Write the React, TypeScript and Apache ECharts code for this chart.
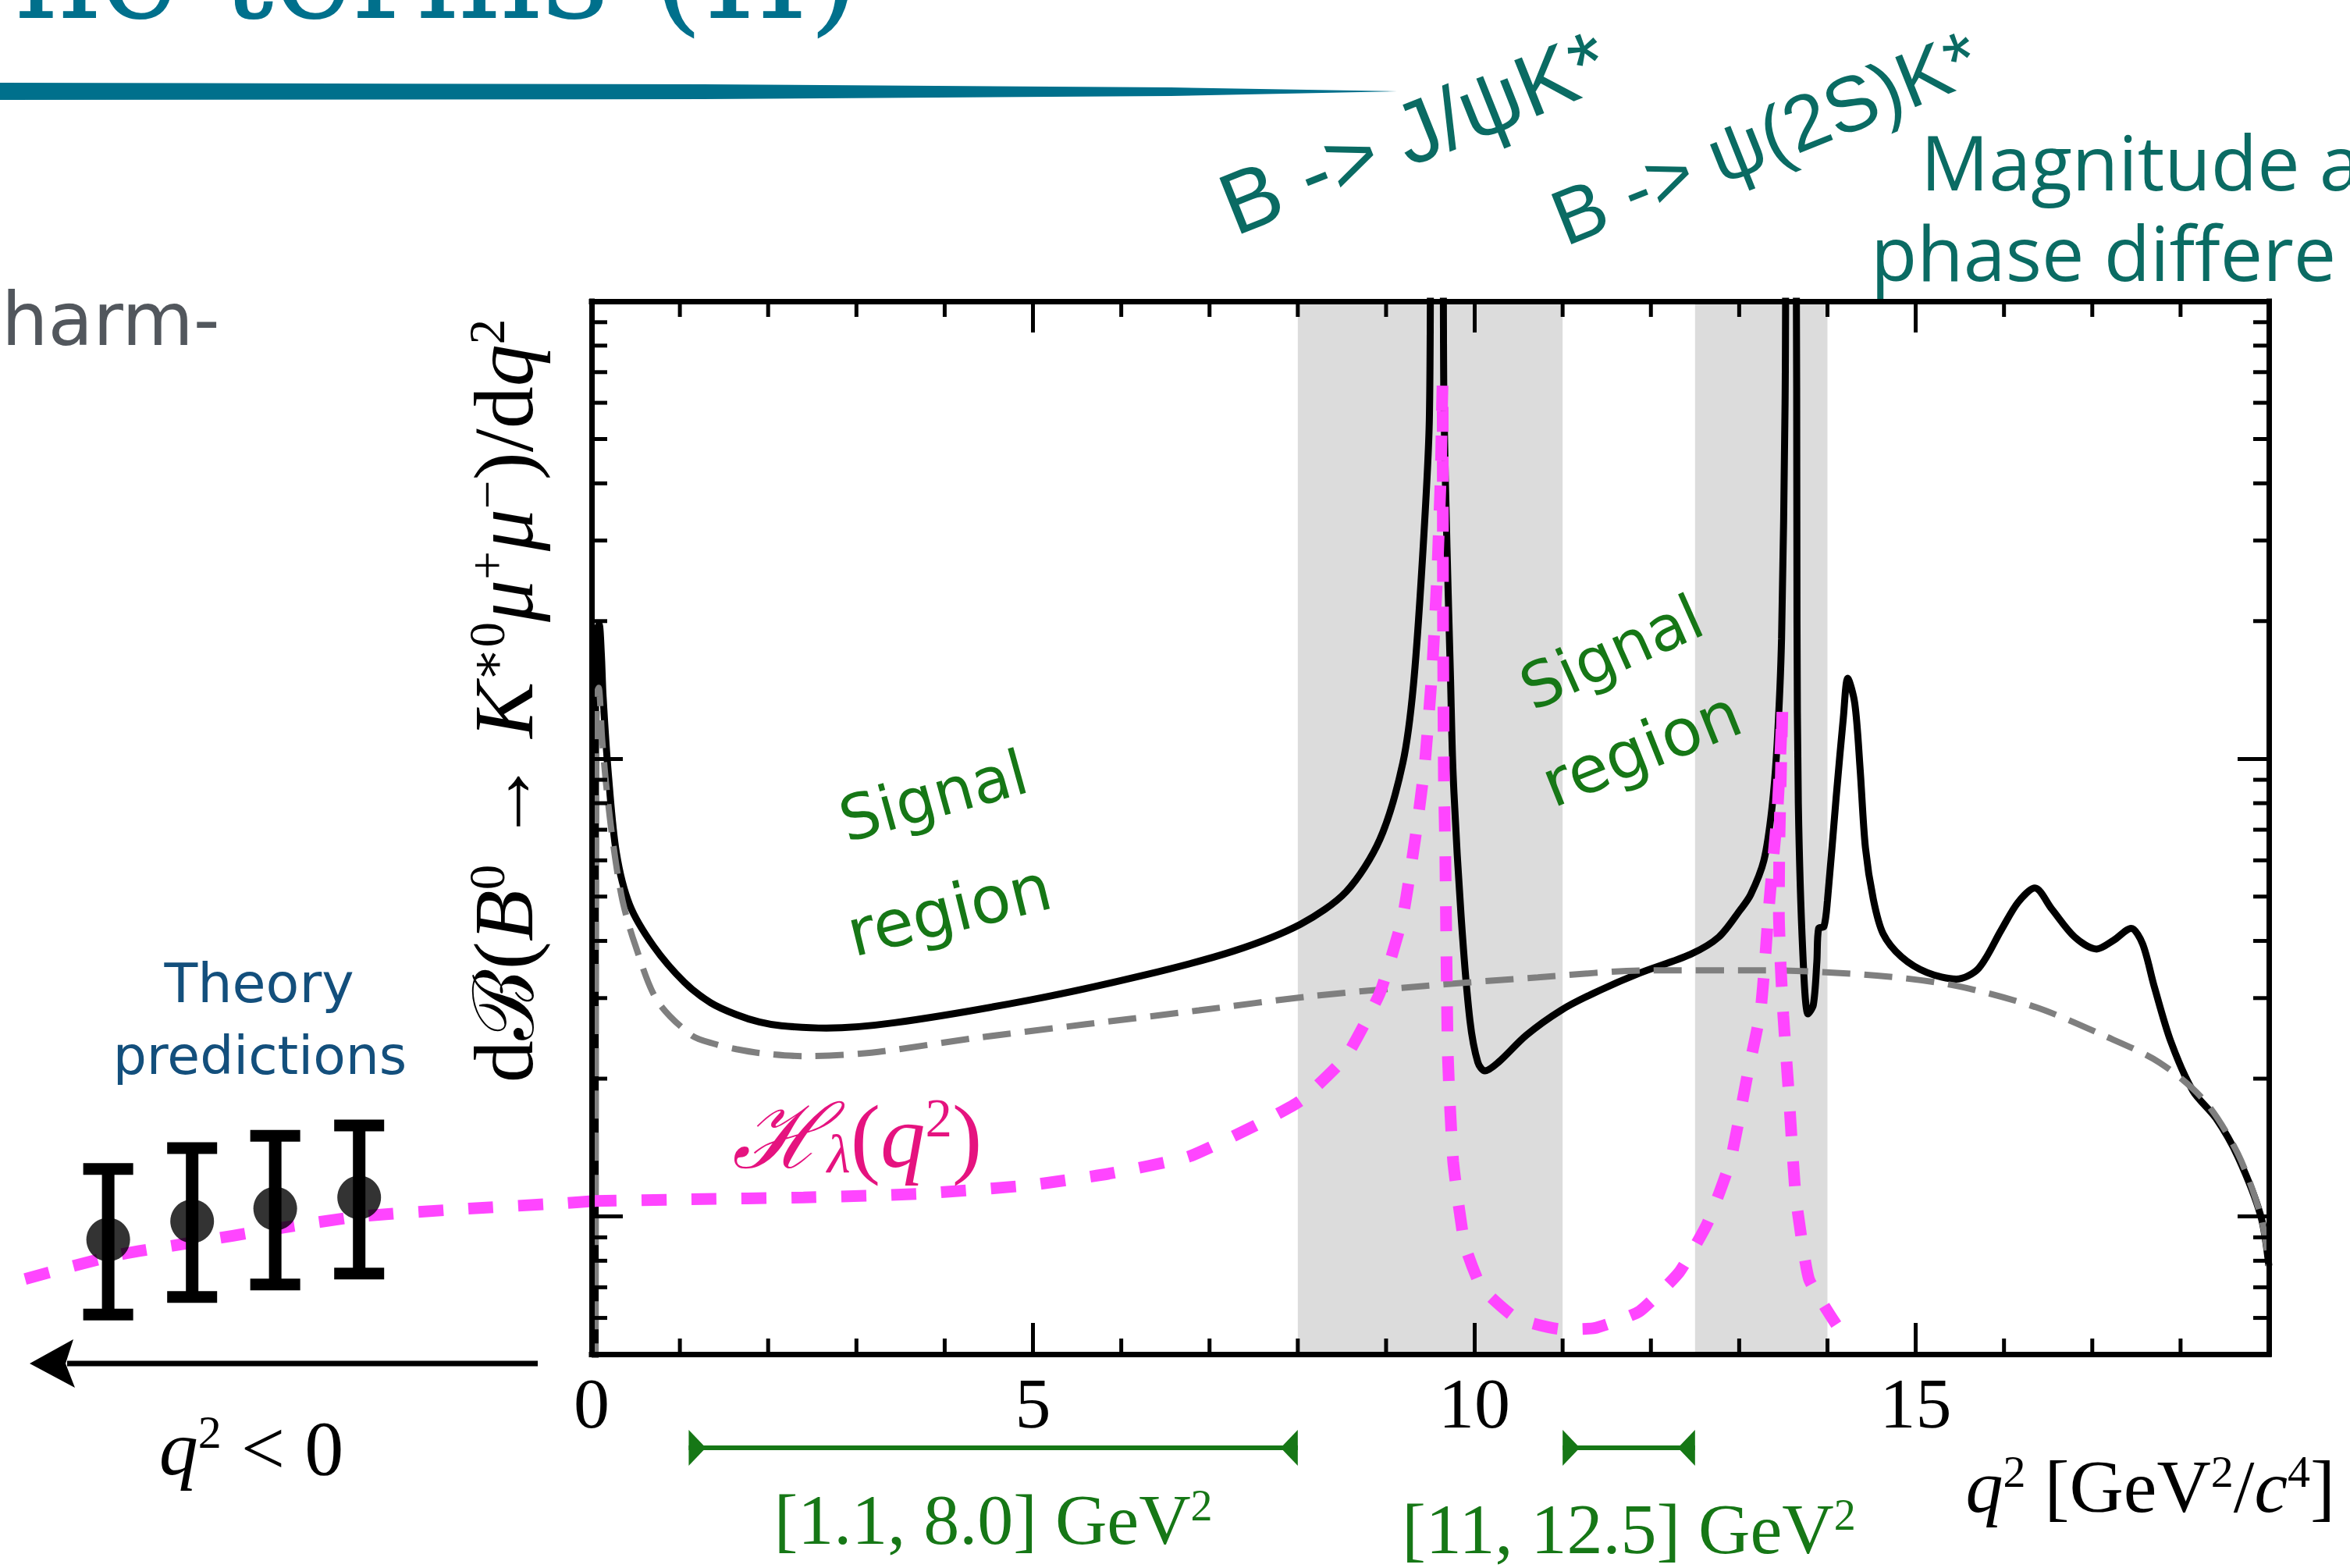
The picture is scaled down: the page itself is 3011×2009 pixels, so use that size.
import React, { useEffect, useRef } from 'react';
import * as echarts from 'echarts';

const SERIF = "'Liberation Serif', 'DejaVu Serif', serif";
const SANS = "'Open Sans', 'DejaVu Sans', sans-serif";
const HAND = "'DejaVu Sans', sans-serif";

// ---- axis ranges & ticks ----
const X_MIN = 0;
const X_MAX = 19;
const X_INTERVAL = 5;
const Y_MIN = 0.5;
const Y_MAX = 100;
const NEG_X_MIN = -6.5;
const xMinorTicks = [1, 2, 3, 4, 6, 7, 8, 9, 11, 12, 13, 14, 16, 17, 18];
const yMinorTicks = [0.6, 0.7, 0.8, 0.9, 2, 3, 4, 5, 6, 7, 8, 9, 20, 30, 40, 50, 60, 70, 80, 90];

// ---- total differential branching fraction (black) ----
const totalQ2 = [0.04, 0.045, 0.06, 0.085, 0.11, 0.13, 0.19, 0.28, 0.43, 0.7, 1.05, 1.35, 1.64, 1.9, 2.15, 2.66, 3.43, 4.96, 6.24, 7.27, 8.03, 8.55, 8.93, 9.19, 9.31, 9.42, 9.49, 9.53, 9.63, 9.655, 9.69, 9.73, 9.76, 9.85, 9.95, 10.04, 10.12, 10.27, 10.59, 10.98, 11.36, 11.87, 12.45, 12.77, 13.01, 13.13, 13.28, 13.37, 13.43, 13.48, 13.52, 13.55, 13.64, 13.655, 13.67, 13.72, 13.78, 13.84, 13.88, 13.9, 13.96, 14.0, 14.1, 14.18, 14.23, 14.31, 14.37, 14.43, 14.52, 14.63, 14.84, 15.13, 15.46, 15.71, 15.97, 16.16, 16.35, 16.54, 16.8, 17.05, 17.24, 17.44, 17.57, 17.7, 17.89, 18.14, 18.4, 18.65, 18.91, 19.0];
const totalVal = [0.3, 14, 19, 19.7, 17, 13.7, 9.25, 6.24, 4.8, 3.9, 3.25, 2.93, 2.76, 2.66, 2.61, 2.58, 2.65, 2.97, 3.36, 3.8, 4.35, 5.13, 6.67, 9.8, 14.5, 29, 55, 300, 300, 60, 29, 15, 9.2, 4.53, 2.68, 2.17, 2.08, 2.17, 2.49, 2.82, 3.08, 3.4, 3.74, 4.08, 4.67, 5.05, 6.0, 7.77, 10.8, 18.3, 60, 300, 300, 20, 8, 3.8, 2.77, 2.9, 3.6, 4.26, 4.3, 4.9, 8.3, 12.3, 15, 13.2, 9.5, 6.4, 4.93, 4.15, 3.69, 3.41, 3.3, 3.48, 4.23, 4.86, 5.22, 4.7, 4.08, 3.84, 4.01, 4.26, 3.94, 3.19, 2.41, 1.88, 1.64, 1.35, 1.0, 0.78];

// ---- short-distance only (grey dashed) ----
const sdQ2 = [0.045, 0.05, 0.065, 0.08, 0.12, 0.17, 0.25, 0.35, 0.49, 0.74, 1.13, 1.4, 1.64, 1.95, 2.41, 3.17, 4.32, 5.6, 6.88, 8.16, 9.44, 10.72, 12.0, 13.28, 14.56, 15.46, 16.35, 17.12, 17.76, 18.27, 18.65, 18.91, 19.0];
const sdVal = [0.3, 10, 14, 14.3, 11, 8.6, 6.4, 4.9, 3.94, 2.97, 2.49, 2.38, 2.32, 2.27, 2.24, 2.28, 2.45, 2.63, 2.82, 3.03, 3.19, 3.33, 3.45, 3.45, 3.36, 3.19, 2.87, 2.49, 2.17, 1.79, 1.37, 1.0, 0.78];

// ---- H_lambda(q^2) (magenta dashed), q^2 > 0 ----
const hQ2 = [0, 1.13, 2.4, 3.68, 4.96, 5.86, 6.76, 7.52, 8.03, 8.55, 8.93, 9.19, 9.34, 9.44, 9.52, 9.55, 9.58, 9.6, 9.62, 9.63, 9.64, 9.645, 9.655, 9.67, 9.7, 9.76, 9.89, 10.08, 10.47, 10.98, 11.36, 11.87, 12.32, 12.64, 12.9, 13.09, 13.24, 13.29, 13.33, 13.38, 13.43, 13.46, 13.49, 13.455, 13.45, 13.47, 13.5, 13.56, 13.64, 13.79, 14.1];
const hVal = [1.08, 1.09, 1.1, 1.12, 1.17, 1.24, 1.35, 1.58, 1.79, 2.24, 3.08, 4.53, 6.9, 9.8, 15.4, 19.6, 25.4, 32.5, 42, 54, 66, 20, 9, 6.4, 2.24, 1.32, 0.87, 0.7, 0.6, 0.567, 0.57, 0.62, 0.755, 0.966, 1.32, 2.02, 2.79, 3.57, 4.57, 5.9, 7.5, 9.6, 12.9, 6.5, 4.56, 3.53, 2.75, 1.88, 1.11, 0.73, 0.58];

// ---- H_lambda at q^2 < 0 and theory predictions ----
const hNegQ2 = [-6.41, -5.41, -4.55, -3.57, -2.62, -1.39, -0.27, 0];
const hNegVal = [0.73, 0.82, 0.875, 0.94, 1.0, 1.04, 1.07, 1.08];
const predQ2 = [-5.47, -4.52, -3.58, -2.63];
const predVal = [0.89, 0.976, 1.04, 1.1];
const predLow = [0.61, 0.667, 0.71, 0.75];
const predHigh = [1.27, 1.41, 1.5, 1.58];

// ---- vetoed charmonium bands & signal regions ----
const bandStart = [8.0, 12.5];
const bandEnd = [11.0, 14.0];
const signalStart = [1.1, 11];
const signalEnd = [8.0, 12.5];
const signalLabels = ['[1.1, 8.0] GeV', '[11, 12.5] GeV'];

const zip = (a: number[], b: number[]) => a.map((v, i) => [v, b[i]]);

const BLACK = '#000000';
const MAGENTA = '#ff45ff';
const GREEN = '#167716';
const TEAL = '#0a6b63';

const axisLineStyle = { color: BLACK, width: 7, cap: 'square' };
const majorTick = { show: true, inside: true, length: 40, lineStyle: { color: BLACK, width: 5 } };

const supRich = (size: number, family: string) => ({
  r: { fontSize: size, fontFamily: family, lineHeight: size },
  i: { fontSize: size, fontFamily: family, fontStyle: 'italic', lineHeight: size },
  c: { fontSize: size, fontFamily: "'DejaVu Serif', serif", lineHeight: size },
  p: { fontSize: Math.round(size * 0.6), fontFamily: family, lineHeight: Math.round(size * 0.6), verticalAlign: 'top' },
  s: { fontSize: Math.round(size * 0.6), fontFamily: family, fontStyle: 'italic', lineHeight: Math.round(size * 0.35), verticalAlign: 'bottom' },
});

function txt(x: number, y: number, text: string, opts: any) {
  const align = opts.align || 'left';
  const style: any = {
    text,
    fill: opts.color || BLACK,
    fontSize: opts.fontSize,
    fontFamily: opts.fontFamily,
    fontStyle: opts.fontStyle || 'normal',
    fontWeight: opts.fontWeight || 'normal',
    align,
    textAlign: align,
    verticalAlign: 'middle',
    textVerticalAlign: 'middle',
    rich: opts.rich,
  };
  if (opts.lineHeight) style.lineHeight = opts.lineHeight;
  return {
    type: 'text',
    x,
    y,
    rotation: opts.rotation || 0,
    z: 100,
    silent: true,
    style,
  };
}

function buildOption() {
  const MAIN = { left: 758, top: 386, width: 2149, height: 1349 };
  return {
    animation: false,
    backgroundColor: '#ffffff',
    grid: [
      { ...MAIN, show: false },
      { left: 22, top: MAIN.top, width: 736, height: MAIN.height, show: false },
      { left: MAIN.left, top: 1820, width: MAIN.width, height: 70, show: false },
    ],
    xAxis: [
      {
        gridIndex: 0, type: 'value', min: X_MIN, max: X_MAX, interval: X_INTERVAL, position: 'bottom', z: 10,
        axisLine: { show: true, onZero: false, lineStyle: axisLineStyle },
        axisTick: majorTick,
        splitLine: { show: false },
        axisLabel: { show: true, margin: 17, fontSize: 92, fontFamily: SERIF, color: BLACK, showMaxLabel: false },
      },
      {
        gridIndex: 0, type: 'value', min: X_MIN, max: X_MAX, interval: X_INTERVAL, position: 'top', z: 10,
        axisLine: { show: true, onZero: false, lineStyle: axisLineStyle },
        axisTick: majorTick,
        splitLine: { show: false },
        axisLabel: { show: false },
      },
      { gridIndex: 1, type: 'value', min: NEG_X_MIN, max: 0, show: false },
      { gridIndex: 2, type: 'value', min: X_MIN, max: X_MAX, show: false },
    ],
    yAxis: [
      {
        gridIndex: 0, type: 'log', logBase: 10, min: Y_MIN, max: Y_MAX, position: 'left', z: 10,
        axisLine: { show: true, onZero: false, lineStyle: axisLineStyle },
        axisTick: majorTick,
        axisLabel: { show: false },
        splitLine: { show: false },
      },
      {
        gridIndex: 0, type: 'log', logBase: 10, min: Y_MIN, max: Y_MAX, position: 'right', z: 10,
        axisLine: { show: true, onZero: false, lineStyle: axisLineStyle },
        axisTick: majorTick,
        axisLabel: { show: false },
        splitLine: { show: false },
      },
      { gridIndex: 1, type: 'log', logBase: 10, min: Y_MIN, max: Y_MAX, show: false },
      { gridIndex: 2, type: 'value', min: 0, max: 1, show: false },
    ],
    series: [
      {
        name: 'vetoed bands',
        type: 'custom',
        xAxisIndex: 0,
        yAxisIndex: 0,
        z: 1,
        silent: true,
        data: zip(bandStart, bandEnd),
        renderItem: (params: any, api: any) => {
          const a = api.coord([api.value(0), Y_MAX]);
          const b = api.coord([api.value(1), Y_MIN]);
          return {
            type: 'rect',
            shape: { x: a[0], y: a[1], width: b[0] - a[0], height: b[1] - a[1] },
            style: { fill: '#dcdcdc' },
          };
        },
      },
      {
        name: 'total',
        type: 'line',
        xAxisIndex: 0,
        yAxisIndex: 0,
        z: 3,
        showSymbol: false,
        smooth: 0.3,
        clip: true,
        data: zip(totalQ2, totalVal),
        lineStyle: { color: BLACK, width: 9 },
      },
      {
        name: 'short distance',
        type: 'line',
        xAxisIndex: 0,
        yAxisIndex: 0,
        z: 4,
        showSymbol: false,
        smooth: 0.3,
        clip: true,
        data: zip(sdQ2, sdVal),
        lineStyle: { color: '#7f7f7f', width: 8, type: [36, 18], cap: 'butt' },
      },
      {
        name: 'H_lambda',
        type: 'line',
        xAxisIndex: 0,
        yAxisIndex: 0,
        z: 5,
        showSymbol: false,
        smooth: 0.15,
        clip: true,
        data: zip(hQ2, hVal),
        lineStyle: { color: MAGENTA, width: 15, type: [32, 32], cap: 'butt' },
      },
      {
        name: 'y minor ticks',
        type: 'custom',
        xAxisIndex: 0,
        yAxisIndex: 0,
        z: 8,
        silent: true,
        data: yMinorTicks.map((v) => [X_MIN, v]),
        renderItem: (params: any, api: any) => {
          const v = api.value(1);
          const l = api.coord([X_MIN, v]);
          const r = api.coord([X_MAX, v]);
          const st = { stroke: BLACK, lineWidth: 5 };
          return {
            type: 'group',
            children: [
              { type: 'line', shape: { x1: l[0], y1: l[1], x2: l[0] + 20, y2: l[1] }, style: st },
              { type: 'line', shape: { x1: r[0] - 20, y1: r[1], x2: r[0], y2: r[1] }, style: st },
            ],
          };
        },
      },
      {
        name: 'x minor ticks',
        type: 'custom',
        xAxisIndex: 0,
        yAxisIndex: 0,
        z: 8,
        silent: true,
        data: xMinorTicks.map((v) => [v, 1]),
        renderItem: (params: any, api: any) => {
          const v = api.value(0);
          const b = api.coord([v, Y_MIN]);
          const t = api.coord([v, Y_MAX]);
          const st = { stroke: BLACK, lineWidth: 5 };
          return {
            type: 'group',
            children: [
              { type: 'line', shape: { x1: b[0], y1: b[1], x2: b[0], y2: b[1] - 20 }, style: st },
              { type: 'line', shape: { x1: t[0], y1: t[1], x2: t[0], y2: t[1] + 20 }, style: st },
            ],
          };
        },
      },
      {
        name: 'H_lambda q2<0',
        type: 'line',
        xAxisIndex: 2,
        yAxisIndex: 2,
        z: 5,
        showSymbol: false,
        smooth: 0.2,
        data: zip(hNegQ2, hNegVal),
        lineStyle: { color: MAGENTA, width: 15, type: [32, 32], cap: 'butt' },
      },
      {
        name: 'prediction errors',
        type: 'custom',
        xAxisIndex: 2,
        yAxisIndex: 2,
        z: 6,
        silent: true,
        data: predQ2.map((q, i) => [q, predLow[i], predHigh[i]]),
        renderItem: (params: any, api: any) => {
          const lo = api.coord([api.value(0), api.value(1)]);
          const hi = api.coord([api.value(0), api.value(2)]);
          const hw = 32;
          const cap = { stroke: BLACK, lineWidth: 15 };
          return {
            type: 'group',
            children: [
              { type: 'line', shape: { x1: lo[0], y1: lo[1], x2: hi[0], y2: hi[1] }, style: { stroke: BLACK, lineWidth: 16 } },
              { type: 'line', shape: { x1: lo[0] - hw, y1: lo[1], x2: lo[0] + hw, y2: lo[1] }, style: cap },
              { type: 'line', shape: { x1: hi[0] - hw, y1: hi[1], x2: hi[0] + hw, y2: hi[1] }, style: cap },
            ],
          };
        },
      },
      {
        name: 'theory predictions',
        type: 'scatter',
        xAxisIndex: 2,
        yAxisIndex: 2,
        z: 7,
        symbol: 'circle',
        symbolSize: 56,
        itemStyle: { color: BLACK },
        data: zip(predQ2, predVal),
      },
      {
        name: 'signal regions',
        type: 'custom',
        xAxisIndex: 3,
        yAxisIndex: 3,
        z: 6,
        silent: true,
        data: zip(signalStart, signalEnd),
        renderItem: (params: any, api: any) => {
          const a = api.coord([api.value(0), 0.5]);
          const b = api.coord([api.value(1), 0.5]);
          const y = a[1];
          const hh = 23;
          const hl = 22;
          return {
            type: 'group',
            children: [
              { type: 'line', shape: { x1: a[0], y1: y, x2: b[0], y2: y }, style: { stroke: GREEN, lineWidth: 6 } },
              { type: 'polygon', shape: { points: [[a[0], y - hh], [a[0], y + hh], [a[0] + hl, y]] }, style: { fill: GREEN } },
              { type: 'polygon', shape: { points: [[b[0], y - hh], [b[0], y + hh], [b[0] - hl, y]] }, style: { fill: GREEN } },
              {
                type: 'text',
                x: (a[0] + b[0]) / 2,
                y: y + 92 + params.dataIndex * 12,
                style: {
                  text: '{r|' + signalLabels[params.dataIndex] + '}{p|2}',
                  fill: GREEN,
                  fontSize: 92,
                  fontFamily: SERIF,
                  align: 'center',
                  verticalAlign: 'middle',
                  rich: {
                    r: { fontSize: 92, fontFamily: SERIF, lineHeight: 92, fill: GREEN },
                    p: { fontSize: 56, fontFamily: SERIF, lineHeight: 56, verticalAlign: 'top', fill: GREEN },
                  },
                },
              },
            ],
          };
        },
      },
    ],
    graphic: [
      // slide title fragment and underline brush
      txt(1102, -36, 'ne terms (II)', { align: 'right', fontSize: 170, fontFamily: "'DejaVu Serif', serif", color: '#00708c' }),
      {
        type: 'polygon', z: 100, silent: true,
        shape: { points: [[0, 106], [900, 108], [1500, 112], [1790, 117], [1500, 123], [900, 127], [0, 128]] },
        style: { fill: '#00708c' },
      },
      txt(2, 409, 'harm-', { fontSize: 94, fontFamily: "'DejaVu Sans', sans-serif", color: '#52575d' }),
      txt(2461, 206, 'Magnitude a', { fontSize: 97, lineHeight: 108, fontFamily: SANS, color: TEAL }),
      txt(2397, 322, 'phase differe', { fontSize: 97, lineHeight: 108, fontFamily: SANS, color: TEAL }),
      // handwritten resonance labels
      txt(1812, 170, 'B -> J/ψK*', { align: 'center', fontSize: 112, fontFamily: "'Liberation Sans', 'DejaVu Sans', sans-serif", color: TEAL, rotation: 0.38 }),
      txt(2262, 176, 'B -> ψ(2S)K*', { align: 'center', fontSize: 100, fontFamily: "'Liberation Sans', 'DejaVu Sans', sans-serif", color: TEAL, rotation: 0.38 }),
      // y-axis title
      txt(645, 898, '{r|d}{c|ℬ}{r|(}{i|B}{p|0}{r| → }{i|K}{p|∗0}{i|μ}{p|+}{i|μ}{p|−}{r|)/d}{i|q}{p|2}', {
        align: 'center', fontSize: 108, fontFamily: SERIF, rotation: Math.PI / 2, rich: supRich(108, SERIF),
      }),
      // signal region notes
      txt(1196, 1020, 'Signal', { align: 'center', fontSize: 80, fontFamily: HAND, color: GREEN, rotation: 0.27 }),
      txt(1216, 1166, 'region', { align: 'center', fontSize: 84, fontFamily: HAND, color: GREEN, rotation: 0.24 }),
      txt(2065, 836, 'Signal', { align: 'center', fontSize: 80, fontFamily: HAND, color: GREEN, rotation: 0.42 }),
      txt(2103, 959, 'region', { align: 'center', fontSize: 84, fontFamily: HAND, color: GREEN, rotation: 0.38 }),
      // theory predictions label
      txt(332, 1260, 'Theory', { align: 'center', fontSize: 70, fontFamily: HAND, color: '#134f7c' }),
      txt(333, 1352, 'predictions', { align: 'center', fontSize: 68, fontFamily: HAND, color: '#134f7c' }),
      // H_lambda label
      txt(1098, 1456, '{h|ℋ}{s|λ}{r|(}{i|q}{p|2}{r|)}', {
        align: 'center', fontSize: 115, fontFamily: SERIF, color: '#e5137f',
        rich: {
          ...supRich(115, SERIF),
          h: { fontSize: 115, fontFamily: "'DejaVu Serif', serif", fontStyle: 'italic', lineHeight: 115 },
        },
      }),
      // q^2 < 0 arrow
      {
        type: 'line', z: 100, silent: true,
        shape: { x1: 689, y1: 1747, x2: 86, y2: 1747 },
        style: { stroke: BLACK, lineWidth: 7 },
      },
      {
        type: 'polygon', z: 100, silent: true,
        shape: { points: [[38, 1747], [94, 1716], [84, 1747], [96, 1778]] },
        style: { fill: BLACK },
      },
      txt(322, 1855, '{i|q}{p|2}{r| < 0}', { align: 'center', fontSize: 100, fontFamily: SERIF, rich: supRich(100, SERIF) }),
      // x-axis title
      txt(2992, 1904, '{i|q}{p|2}{r| [GeV}{p|2}{r|/}{i|c}{p|4}{r|]}', { align: 'right', fontSize: 96, fontFamily: SERIF, rich: supRich(96, SERIF) }),
    ],
  };
}

export default function App() {
  const ref = useRef<HTMLDivElement>(null);
  useEffect(() => {
    if (!ref.current) return;
    const chart = echarts.init(ref.current, null, { renderer: 'svg' });
    chart.setOption(buildOption() as any);
    return () => {
      chart.dispose();
    };
  }, []);
  return (
    <div
      ref={ref}
      style={{ position: 'fixed', left: 0, top: 0, width: 3011, height: 2009, background: '#ffffff' }}
    />
  );
}
